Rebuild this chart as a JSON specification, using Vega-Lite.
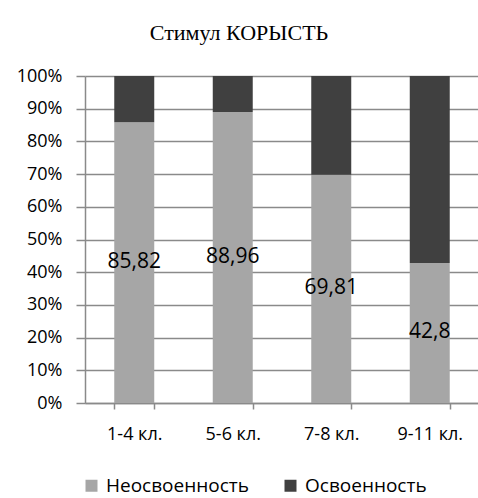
{
  "$schema": "https://vega.github.io/schema/vega-lite/v6.json",
  "width": 394,
  "height": 327,
  "autosize": {"type": "none"},
  "padding": {"left": 85, "top": 76, "right": 0, "bottom": 95},
  "config": {
    "locale": {"number": {"decimal": ",", "thousands": "\u00a0", "grouping": [3], "currency": ["", " ₽"]}},
    "view": {"stroke": null},
    "font": "Open Sans"
  },
  "title": {
    "text": "Стимул КОРЫСТЬ",
    "font": "Liberation Serif",
    "fontSize": 22,
    "fontWeight": "normal",
    "color": "#000000",
    "anchor": "middle",
    "dx": -43,
    "baseline": "alphabetic",
    "offset": 5
  },
  "data": {
    "values": [
      {"group": "1-4 кл.", "series": "Неосвоенность", "value": 85.82},
      {"group": "1-4 кл.", "series": "Освоенность", "value": 14.18},
      {"group": "5-6 кл.", "series": "Неосвоенность", "value": 88.96},
      {"group": "5-6 кл.", "series": "Освоенность", "value": 11.04},
      {"group": "7-8 кл.", "series": "Неосвоенность", "value": 69.81},
      {"group": "7-8 кл.", "series": "Освоенность", "value": 30.19},
      {"group": "9-11 кл.", "series": "Неосвоенность", "value": 42.8},
      {"group": "9-11 кл.", "series": "Освоенность", "value": 57.2}
    ]
  },
  "encoding": {
    "x": {
      "field": "group",
      "type": "nominal",
      "sort": null,
      "scale": {"paddingInner": 0.594, "paddingOuter": 0.297},
      "axis": {
        "title": null,
        "labelAngle": 0,
        "tickBand": "extent",
        "tickSize": 6,
        "tickWidth": 1.5,
        "tickColor": "#8a8a8a",
        "domainColor": "#8a8a8a",
        "domainWidth": 1.5,
        "labelPadding": 16,
        "labelFontSize": 18,
        "labelColor": "#000000",
        "grid": false
      }
    }
  },
  "layer": [
    {
      "mark": {"type": "bar"},
      "encoding": {
        "y": {
          "field": "value",
          "type": "quantitative",
          "stack": "zero",
          "scale": {"domain": [0, 100], "nice": false},
          "axis": {
            "title": null,
            "values": [0, 10, 20, 30, 40, 50, 60, 70, 80, 90, 100],
            "labelExpr": "datum.value + '%'",
            "grid": true,
            "gridColor": "#8a8a8a",
            "gridWidth": 1.5,
            "domainColor": "#8a8a8a",
            "domainWidth": 1.5,
            "tickColor": "#8a8a8a",
            "tickWidth": 1.5,
            "tickSize": 9,
            "labelPadding": 14,
            "labelFontSize": 18,
            "labelColor": "#000000"
          }
        },
        "color": {
          "field": "series",
          "type": "nominal",
          "scale": {"domain": ["Неосвоенность", "Освоенность"], "range": ["#a6a6a6", "#404040"]},
          "legend": {
            "title": null,
            "orient": "none",
            "legendX": -3,
            "legendY": 400,
            "padding": 0,
            "direction": "horizontal",
            "symbolType": "square",
            "symbolSize": 144,
            "symbolStrokeWidth": 0,
            "labelFontSize": 19,
            "labelColor": "#000000",
            "labelOffset": 5,
            "columnPadding": 32
          }
        },
        "order": {"field": "series", "sort": "ascending"}
      }
    },
    {
      "transform": [{"filter": "datum.series === 'Неосвоенность'"}],
      "mark": {"type": "text", "fontSize": 21, "color": "#000000", "baseline": "middle", "dy": -1},
      "encoding": {
        "y": {
          "field": "value",
          "type": "quantitative",
          "stack": null,
          "scale": {"domain": [0, 200], "nice": false},
          "axis": null
        },
        "text": {"field": "value", "type": "quantitative", "format": ".4~g"}
      }
    }
  ],
  "resolve": {"scale": {"y": "independent"}}
}
